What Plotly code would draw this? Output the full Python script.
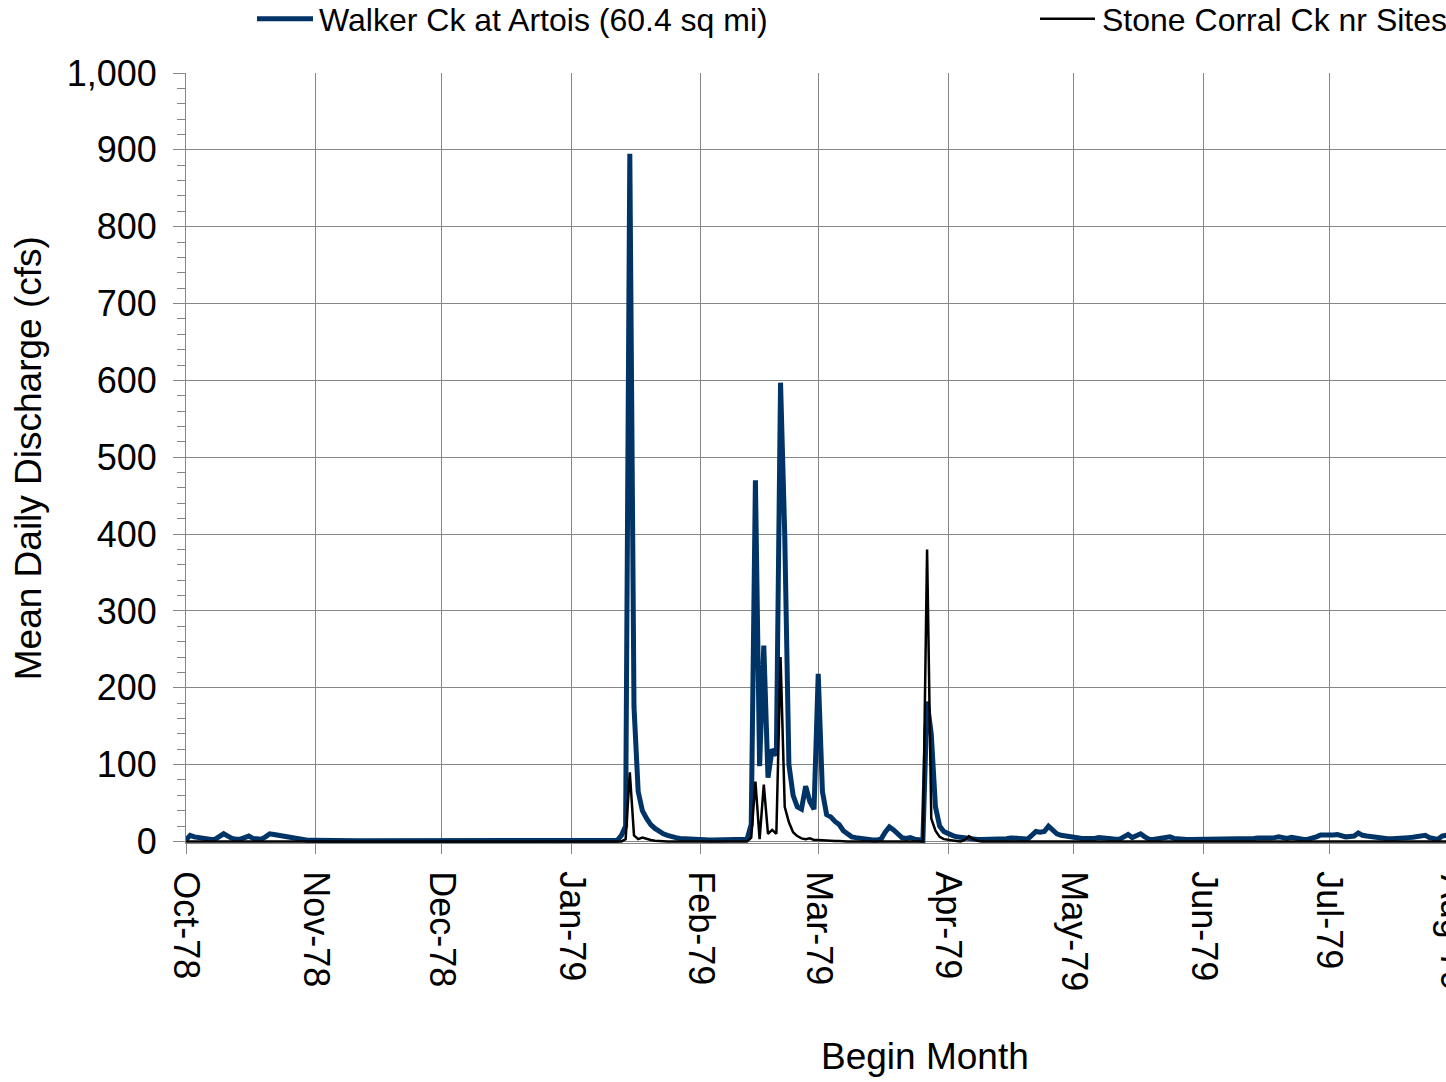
import pandas as pd
import plotly.graph_objects as go

# ---- Daily mean discharge, water year 1979 (Oct-78 .. Jul-79), cfs ----
oct_78_walker = [2, 8, 6, 5, 3, 2.5, 2.5, 3, 7, 10, 7, 4, 3, 3, 5, 7, 4, 3, 3, 6,
                 10, 9, 8, 7, 5, 4, 3, 2.5, 2, 1.5, 1.5]
nov_78_walker = [1.3, 1.2, 1.2, 1.1, 1.1, 1.0, 1.0, 1.0, 1.0, 1.0, 0.9, 0.9, 0.9, 0.9, 0.9,
                 0.9, 0.9, 0.9, 0.9, 0.9, 0.9, 0.9, 0.9, 0.9, 0.9, 0.9, 0.9, 0.9, 0.9, 0.9]
dec_78_walker = [0.9, 0.9, 0.9, 0.9, 0.9, 0.9, 0.9, 0.9, 0.9, 0.9, 0.9, 0.9, 0.9, 0.9, 0.9,
                 0.9, 0.9, 0.9, 0.9, 0.9, 0.9, 0.9, 0.9, 0.9, 0.9, 0.9, 0.9, 0.9, 0.9, 1.0, 1.0]
jan_79_walker = [1.0, 1.0, 1.0, 1.0, 1.0, 1.0, 1.0, 1.0, 1.0, 1.0, 1.0, 1.5, 8, 20, 895,
                 175, 65, 40, 30, 22, 17, 13, 10, 8, 6, 5, 4, 3.5, 3, 3, 2.5]
feb_79_walker = [2.5, 2.2, 2, 2, 2, 2, 2, 2, 2, 2, 2, 3, 22, 470, 98, 255, 83, 120, 112,
                 597, 400, 100, 60, 45, 42, 72, 52, 42]
mar_79_walker = [218, 65, 35, 32, 26, 22, 14, 9, 6, 5, 4, 3, 2.5, 2, 2, 3, 12, 19, 15, 11,
                 5, 4, 5, 3, 2, 1.5, 182, 140, 45, 20, 13]
apr_79_walker = [10, 8, 6, 5, 4, 3.5, 3, 2.5, 2.5, 2.5, 2.5, 2.5, 2.5, 3, 3.5, 4.5, 5, 4,
                 3.5, 3, 8, 13, 12, 13, 20, 15, 10, 8, 7, 6]
may_79_walker = [5, 4.5, 4, 4, 3.5, 4, 5, 4, 4, 3.5, 3, 3, 6, 9, 5, 7, 10, 6, 3, 2.5, 3, 4,
                 5, 6, 4, 3, 2.5, 2.5, 2.5, 2.5, 2.5]
jun_79_walker = [2.5, 2.5, 2.5, 2.5, 2.5, 3, 3, 3, 3, 3, 3.5, 3.5, 4, 4.5, 4, 4, 4.5, 5, 6,
                 5, 4, 5.5, 4, 2.5, 2.5, 3, 4, 6, 8.5, 8]
jul_79_walker = [7.5, 8.5, 9, 7, 6, 6.5, 7, 11, 8, 7, 6, 5, 4.5, 4, 3.5, 3.5, 3.5, 4, 4.5,
                 5, 5.5, 6, 7, 8, 5, 3.5, 2.6, 7, 8, 6, 5]

oct_78_stone = [0] * 31
nov_78_stone = [0] * 30
dec_78_stone = [0] * 31
jan_79_stone = [0, 0, 0, 0, 0, 0, 0, 0, 0, 0, 0, 0, 0, 3, 90, 8, 3, 5, 3, 2, 1, 0.5,
                0, 0, 0, 0, 0, 0, 0, 0, 0]
feb_79_stone = [0, 0, 0, 0, 0, 0, 0, 0, 0, 0, 0, 0, 5, 78, 3, 74, 10, 15, 10, 240, 45,
                25, 12, 7, 4, 3, 4, 2]
mar_79_stone = [2, 1.5, 1, 0.5, 0.5, 0.5, 0, 0, 0, 0, 0, 0, 0, 0, 0, 0, 0, 0, 0, 0, 0, 0,
                0, 0, 0, 0, 380, 30, 14, 6, 3]
apr_79_stone = [2, 1, 0.5, 0, 2, 7, 3, 1, 0, 0, 0, 0, 0, 0, 0, 0, 0, 0, 0, 0, 0, 0, 0, 0,
                0, 0, 0, 0, 0, 0]
may_79_stone = [0] * 31
jun_79_stone = [0] * 30
jul_79_stone = [0] * 31

walker_name = "Walker Ck at Artois (60.4 sq mi)"
stone_name = "Stone Corral Ck nr Sites (38.2 sq mi)"
y_ticks = [0, 100, 200, 300, 400, 500, 600, 700, 800, 900, 1000]

walker = (oct_78_walker + nov_78_walker + dec_78_walker + jan_79_walker + feb_79_walker
          + mar_79_walker + apr_79_walker + may_79_walker + jun_79_walker + jul_79_walker)
stone = (oct_78_stone + nov_78_stone + dec_78_stone + jan_79_stone + feb_79_stone
         + mar_79_stone + apr_79_stone + may_79_stone + jun_79_stone + jul_79_stone)
dates = pd.date_range("1978-10-01", "1979-07-31", freq="D")
assert len(walker) == len(dates) == len(stone)

# ---- Figure geometry (pixels) ----
W, H = 1446, 1082
L, T = 186, 73.3
PW = W - L                 # plot runs to the right edge of the page
PH = 769.9
B = H - T - PH
BLUE = "rgb(0,51,102)"
GRID = "rgb(134,134,134)"
FONT = "Liberation Sans, Arial, sans-serif"


def px_x(px):
    return (px - L) / PW


def px_y(py):
    return (T + PH - py) / PH


fig = go.Figure()
fig.add_trace(go.Scatter(x=dates, y=walker, mode="lines", name=walker_name,
                         line=dict(color=BLUE, width=5), showlegend=False))
fig.add_trace(go.Scatter(x=dates, y=stone, mode="lines", name=stone_name,
                         line=dict(color="black", width=2.5), showlegend=False))

fig.update_layout(
    width=W, height=H,
    margin=dict(l=L, r=0, t=T, b=B, autoexpand=False),
    paper_bgcolor="white", plot_bgcolor="white",
    font=dict(family=FONT, color="black", size=36),
    showlegend=False,
)

fig.update_xaxes(
    type="date",
    range=["1978-10-01", "1979-07-28 22:34"],
    tick0="1978-10-01", dtick="M1", tickformat="%b-%y",
    tickangle=90, tickfont=dict(size=36),
    ticks="outside", ticklen=10, tickcolor=GRID, tickwidth=1,
    showgrid=True, gridcolor=GRID, gridwidth=1,
    showline=True, linecolor=GRID, linewidth=1,
    zeroline=False, ticklabelstandoff=10,
)
fig.update_yaxes(
    range=[-2, 1000],
    tickmode="array", tickvals=y_ticks, tickformat=",d",
    tickfont=dict(size=36),
    ticks="outside", ticklen=12, tickcolor=GRID, tickwidth=1,
    minor=dict(dtick=20, tick0=0, ticks="outside", ticklen=8, tickcolor=GRID, showgrid=False),
    showgrid=True, gridcolor=GRID, gridwidth=1,
    showline=True, linecolor=GRID, linewidth=1,
    zeroline=False, ticklabelstandoff=9,
)

# Legend drawn as line samples plus labels across the top
fig.add_shape(type="line", xref="paper", yref="paper",
              x0=px_x(257), x1=px_x(313), y0=px_y(19), y1=px_y(19),
              line=dict(color=BLUE, width=5))
fig.add_shape(type="line", xref="paper", yref="paper",
              x0=px_x(1040), x1=px_x(1095), y0=px_y(19), y1=px_y(19),
              line=dict(color="black", width=2.5))
fig.add_annotation(text=walker_name, xref="paper", yref="paper",
                   x=px_x(317), y=px_y(20), xanchor="left", yanchor="middle",
                   showarrow=False, font=dict(size=32))
fig.add_annotation(text=stone_name, xref="paper", yref="paper",
                   x=px_x(1100), y=px_y(20), xanchor="left", yanchor="middle",
                   showarrow=False, font=dict(size=32))

# Axis titles
fig.add_annotation(text="Mean Daily Discharge (cfs)", xref="paper", yref="paper",
                   x=px_x(28), y=px_y(458.5), xanchor="center", yanchor="middle",
                   textangle=-90, showarrow=False, font=dict(size=37))
fig.add_annotation(text="Begin Month", xref="paper", yref="paper",
                   x=px_x(924.5), y=px_y(1057), xanchor="center", yanchor="middle",
                   showarrow=False, font=dict(size=37))

# Next month label, beyond the plotted range
fig.add_annotation(text="Aug-79", xref="paper", yref="paper",
                   x=px_x(1453), y=px_y(873), xanchor="center", yanchor="top",
                   textangle=90, showarrow=False, font=dict(size=36))

fig.write_html("out.html")
